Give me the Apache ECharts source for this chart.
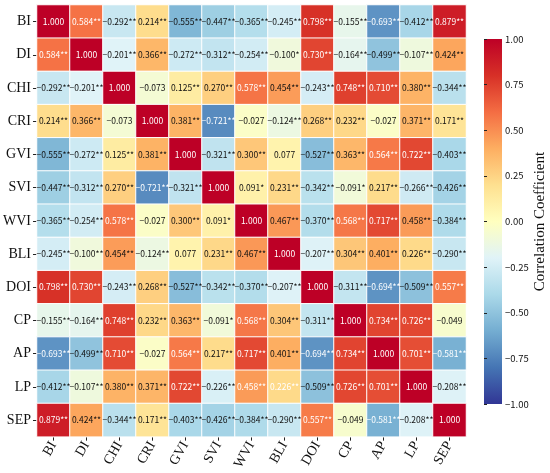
<!DOCTYPE html>
<html>
<head>
<meta charset="utf-8">
<script src="https://cdn.jsdelivr.net/npm/echarts@6/dist/echarts.min.js"></script>
<style>html,body{margin:0;padding:0;background:#fff}#c{width:550px;height:473px}</style>
</head>
<body>
<div id="c"></div>
<script>
const names = ['BI','DI','CHI','CRI','GVI','SVI','WVI','BLI','DOI','CP','AP','LP','SEP'];

const rBI  = [1.000, 0.584,-0.292, 0.214,-0.555,-0.447,-0.365,-0.245, 0.798,-0.155,-0.693,-0.412, 0.879];
const rDI  = [0.584, 1.000,-0.201, 0.366,-0.272,-0.312,-0.254,-0.100, 0.730,-0.164,-0.499,-0.107, 0.424];
const rCHI = [-0.292,-0.201, 1.000,-0.073, 0.125, 0.270, 0.578, 0.454,-0.243, 0.748, 0.710, 0.380,-0.344];
const rCRI = [0.214, 0.366,-0.073, 1.000, 0.381,-0.721,-0.027,-0.124, 0.268, 0.232,-0.027, 0.371, 0.171];
const rGVI = [-0.555,-0.272, 0.125, 0.381, 1.000,-0.321, 0.300, 0.077,-0.527, 0.363, 0.564, 0.722,-0.403];
const rSVI = [-0.447,-0.312, 0.270,-0.721,-0.321, 1.000, 0.091, 0.231,-0.342,-0.091, 0.217,-0.266,-0.426];
const rWVI = [-0.365,-0.254, 0.578,-0.027, 0.300, 0.091, 1.000, 0.467,-0.370, 0.568, 0.717, 0.458,-0.384];
const rBLI = [-0.245,-0.100, 0.454,-0.124, 0.077, 0.231, 0.467, 1.000,-0.207, 0.304, 0.401, 0.226,-0.290];
const rDOI = [0.798, 0.730,-0.243, 0.268,-0.527,-0.342,-0.370,-0.207, 1.000,-0.311,-0.694,-0.509, 0.557];
const rCP  = [-0.155,-0.164, 0.748, 0.232, 0.363,-0.091, 0.568, 0.304,-0.311, 1.000, 0.734, 0.726,-0.049];
const rAP  = [-0.693,-0.499, 0.710,-0.027, 0.564, 0.217, 0.717, 0.401,-0.694, 0.734, 1.000, 0.701,-0.581];
const rLP  = [-0.412,-0.107, 0.380, 0.371, 0.722,-0.226, 0.458, 0.226,-0.509, 0.726, 0.701, 1.000,-0.208];
const rSEP = [0.879, 0.424,-0.344, 0.171,-0.403,-0.426,-0.384,-0.290, 0.557,-0.049,-0.581,-0.208, 1.000];

// significance markers per row
const sBI  = ['', '**','**','**','**','**','**','**','**','**','**','**','**'];
const sDI  = ['**','', '**','**','**','**','**','*', '**','**','**','**','**'];
const sCHI = ['**','**','', '', '**','**','**','**','**','**','**','**','**'];
const sCRI = ['**','**','', '', '**','**','', '**','**','**','', '**','**'];
const sGVI = ['**','**','**','**','', '**','**','', '**','**','**','**','**'];
const sSVI = ['**','**','**','**','**','', '*', '**','**','*', '**','**','**'];
const sWVI = ['**','**','**','', '**','*', '', '**','**','**','**','**','**'];
const sBLI = ['**','**','**','**','', '**','**','', '**','**','**','**','**'];
const sDOI = ['**','**','**','**','**','**','**','**','', '**','**','**','**'];
const sCP  = ['**','**','**','**','**','*', '**','**','**','', '**','**',''];
const sAP  = ['**','**','**','', '**','**','**','**','**','**','', '**','**'];
const sLP  = ['**','**','**','**','**','**','**','**','**','**','**','', '**'];
const sSEP = ['**','**','**','**','**','**','**','**','**','', '**','**',''];

// cells whose annotation is drawn in white despite the threshold rule [row, col]
const whiteExtra = [[11,6],[11,7]];

const rows = [rBI,rDI,rCHI,rCRI,rGVI,rSVI,rWVI,rBLI,rDOI,rCP,rAP,rLP,rSEP];
const stars = [sBI,sDI,sCHI,sCRI,sGVI,sSVI,sWVI,sBLI,sDOI,sCP,sAP,sLP,sSEP];

const palette = ['#313695','#4575b4','#74add1','#abd9e9','#e0f3f8','#ffffbf','#fee090','#fdae61','#f46d43','#d73027','#bd0026'];

const fmt = v => (v < 0 ? '\u2212' : '') + Math.abs(v).toFixed(3);
const data = [];
rows.forEach((row, r) => row.forEach((v, c) => {
  const white = v > 0.55 || v < -0.56 || whiteExtra.some(p => p[0] === r && p[1] === c);
  data.push({
    value: [c, r, v],
    label: { color: white ? '#ffffff' : '#111111', formatter: fmt(v) + stars[r][c] }
  });
}));

const cellFont = "'Noto Sans CJK SC','Noto Sans',sans-serif";
const serif = "'Liberation Serif','Times New Roman',serif";

const cb = { x: 484, y: 39, w: 18, h: 365 };
const stops = palette.slice().reverse().map((col, i, a) => ({ offset: i / (a.length - 1), color: col }));

const chart = echarts.init(document.getElementById('c'));
chart.setOption({
  animation: false,
  backgroundColor: '#fff',
  grid: [
    { left: 33, top: 5, width: 433, height: 432 },
    { left: cb.x, top: cb.y, width: cb.w, height: cb.h }
  ],
  xAxis: [
    { type: 'category', data: names, gridIndex: 0, position: 'bottom',
      axisLine: { show: false }, axisTick: { show: true, length: 4, alignWithLabel: true, lineStyle: { color: '#222' } },
      axisLabel: { rotate: 60, fontFamily: serif, fontSize: 14, color: '#111', margin: 6 },
      splitLine: { show: false } },
    { type: 'value', gridIndex: 1, show: false }
  ],
  yAxis: [
    { type: 'category', data: names, gridIndex: 0, inverse: true,
      axisLine: { show: false }, axisTick: { show: true, length: 4, alignWithLabel: true, lineStyle: { color: '#222' } },
      axisLabel: { fontFamily: serif, fontSize: 14, color: '#111', margin: 6 },
      splitLine: { show: false } },
    { type: 'value', gridIndex: 1, position: 'right', min: -1, max: 1, interval: 0.25,
      axisLine: { show: false }, axisTick: { show: true, length: 3, lineStyle: { color: '#222' } },
      splitLine: { show: false },
      axisLabel: { fontFamily: cellFont, fontSize: 9.5, color: '#111', margin: 3,
        formatter: v => (v < 0 ? '\u2212' : '') + Math.abs(v).toFixed(2) },
      name: 'Correlation Coefficient', nameLocation: 'middle', nameRotate: 90, nameGap: 28,
      nameTextStyle: { fontFamily: serif, fontSize: 15, color: '#111' } }
  ],
  visualMap: {
    type: 'continuous', min: -1, max: 1, seriesIndex: 0, show: false,
    inRange: { color: palette }
  },
  graphic: [
    { type: 'rect', z: 0, silent: true,
      shape: { x: cb.x, y: cb.y, width: cb.w, height: cb.h },
      style: { fill: new echarts.graphic.LinearGradient(0, 0, 0, 1, stops) } }
  ],
  series: [
    { type: 'heatmap', xAxisIndex: 0, yAxisIndex: 0, data: data,
      itemStyle: { borderColor: '#fff', borderWidth: 1 },
      label: { show: true, fontFamily: cellFont, fontSize: 8.5 },
      emphasis: { disabled: true } },
    { type: 'scatter', xAxisIndex: 1, yAxisIndex: 1, data: [], silent: true }
  ]
});
</script>
</body>
</html>
